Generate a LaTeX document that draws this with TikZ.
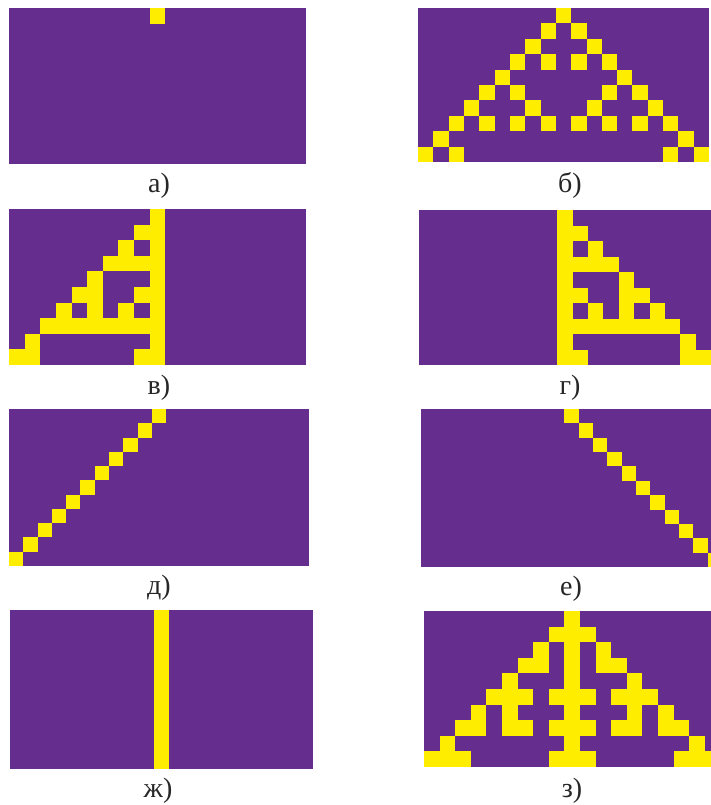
\documentclass[tikz,border=0pt]{standalone}
\usepackage{fontspec}
\setmainfont{Liberation Serif}
\definecolor{purp}{RGB}{101,45,141}
\definecolor{yel}{RGB}{255,237,0}
\tikzset{
  lab/.style={anchor=base,inner sep=0pt,font=\fontsize{28}{30}\selectfont,text=black!85},
  bg/.style={fill=purp},
  cell/.style={fill=yel}
}
% #1 x0, #2 y0, #3 cell width, #4 cell height, #5 cols, #6 rows, #7 cells row/{cols}
\newcommand\capanel[7]{%
  \fill[bg] (#1,#2) rectangle ++({#5*#3},{#6*#4});
  \foreach \r/\cs in {#7}{%
    \foreach \c in \cs{%
      \fill[cell] ({#1+\c*#3},{#2+\r*#4}) rectangle ++(#3,#4);
    }%
  }%
}
\begin{document}
\begin{tikzpicture}[x=1pt,y=-1pt]
\useasboundingbox (0,0) rectangle (711,805);
\clip (0,0) rectangle (711,805);
% а
\capanel{9}{8}{15.63}{15.6}{19}{10}{0/{9}}
% б
\capanel{418}{8}{15.32}{15.4}{19}{10}{0/{9},1/{8,10},2/{7,11},3/{6,8,10,12},4/{5,13},5/{4,6,12,14},6/{3,7,11,15},7/{2,4,6,8,10,12,14,16},8/{1,17},9/{0,2,16,18}}
% в
\capanel{9}{209}{15.63}{15.6}{19}{10}{0/{9},1/{8,9},2/{7,9},3/{6,7,8,9},4/{5,9},5/{4,5,8,9},6/{3,5,7,9},7/{2,3,4,5,6,7,8,9},8/{1,9},9/{0,1,8,9}}
% г
\capanel{419}{210}{15.37}{15.5}{19}{10}{0/{9},1/{9,10},2/{9,11},3/{9,10,11,12},4/{9,13},5/{9,10,13,14},6/{9,11,13,15},7/{9,10,11,12,13,14,15,16},8/{9,17},9/{9,10,17,18}}
% д
\capanel{9}{409}{14.29}{14.27}{21}{11}{0/{10},1/{9},2/{8},3/{7},4/{6},5/{5},6/{4},7/{3},8/{2},9/{1},10/{0}}
% е
\capanel{421}{409}{14.33}{14.36}{21}{11}{0/{10},1/{11},2/{12},3/{13},4/{14},5/{15},6/{16},7/{17},8/{18},9/{19},10/{20}}
% ж
\capanel{10}{610}{14.43}{14.45}{21}{11}{0/{10},1/{10},2/{10},3/{10},4/{10},5/{10},6/{10},7/{10},8/{10},9/{10},10/{10}}
% з
\capanel{424}{611}{15.6}{15.6}{19}{10}{0/{9},1/{8,9,10},2/{7,9,11},3/{6,7,9,11,12},4/{5,9,13},5/{4,5,6,8,9,10,12,13,14},6/{3,5,9,13,15},7/{2,3,5,6,8,9,10,12,13,15,16},8/{1,9,17},9/{0,1,2,8,9,10,16,17,18}}
% labels
\node[lab] (la) at (159,193) {а)};
\node[lab] (lb) at (570,193) {б)};
\node[lab] (lv) at (159,394) {в)};
\node[lab] (lg) at (570,394) {г)};
\node[lab] (ld) at (159,594) {д)};
\node[lab] (le) at (571,595) {е)};
\node[lab] (lzh) at (158,797) {ж)};
\node[lab] (lz) at (572,797) {з)};
\end{tikzpicture}
\end{document}
